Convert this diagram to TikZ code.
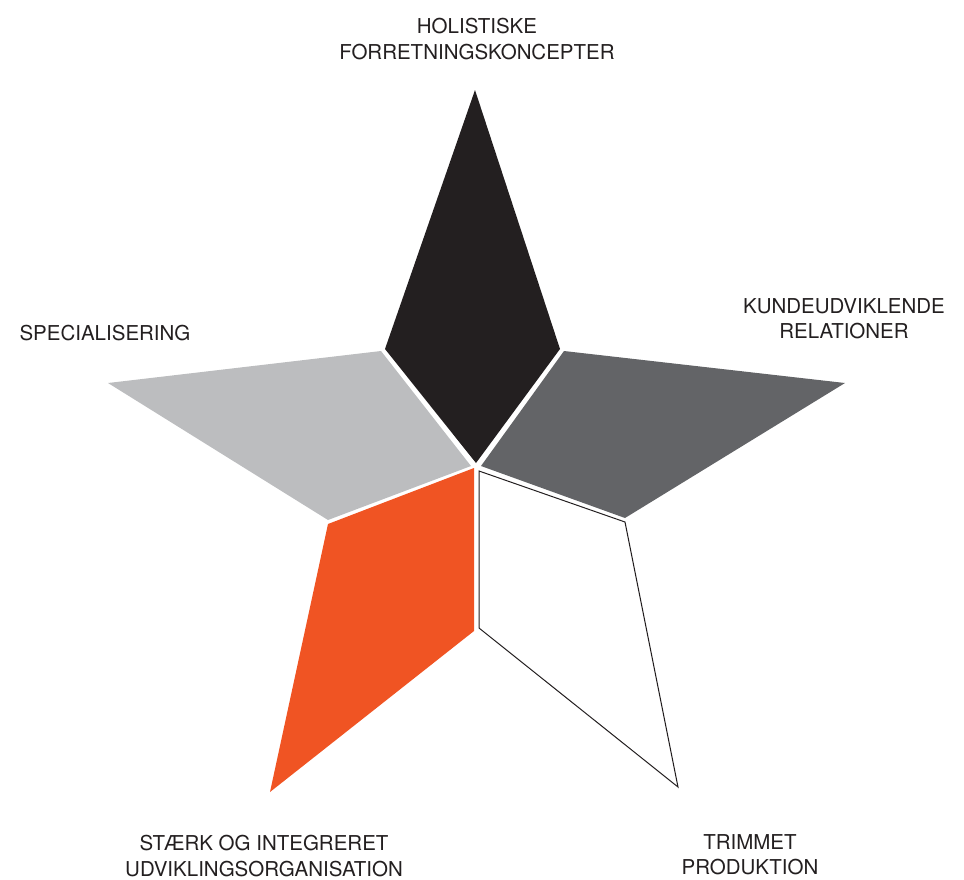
\documentclass[tikz,border=0pt]{standalone}
\usepackage{fontspec}
\setmainfont{TeX Gyre Heros}
\usepackage{tikz}
\usepackage{xcolor}
\definecolor{kiteblack}{HTML}{231F20}
\definecolor{kitedark}{HTML}{636467}
\definecolor{kitelight}{HTML}{BCBDBF}
\definecolor{kiteorange}{HTML}{F05423}

\begin{document}
\begin{tikzpicture}[x=1pt, y=-1pt,
		label/.style={anchor=north, inner sep=0pt, align=center, text=kiteblack,
			font=\fontsize{20.5}{25.5}\selectfont}]
				\useasboundingbox (0, 0) rectangle (964, 879);
				% the five points of the star
				\fill[color=kiteblack] (476, 463) -- (385, 349) -- (475, 90) -- (560, 349) -- cycle;
				\fill[color=kitedark] (481, 466) -- (564, 351) -- (845, 383) -- (625, 518) -- cycle;
				\fill[color=kitelight] (471, 466) -- (381, 351) -- (108, 383) -- (328, 520) -- cycle;
				\fill[color=kiteorange] (474, 468) -- (328, 524) -- (270, 792) -- (474, 631) -- cycle;
				\draw[line width=1pt, color=kiteblack] (479, 471) -- (625, 522) -- (678, 787) -- (479, 628) -- cycle;
				% labels
				\node[label] (holistic) at (477, 18) {HOLISTISKE\\FORRETNINGSKONCEPTER};
				\node[label] (customer) at (844, 298) {KUNDEUDVIKLENDE\\RELATIONER};
				\node[label] (special) at (105, 325) {SPECIALISERING};
				\node[label] (develop) at (264, 835) {STÆRK OG INTEGRERET\\UDVIKLINGSORGANISATION};
				\node[label] (lean) at (750, 834) {TRIMMET\\PRODUKTION};
			\end{tikzpicture}
\end{document}
